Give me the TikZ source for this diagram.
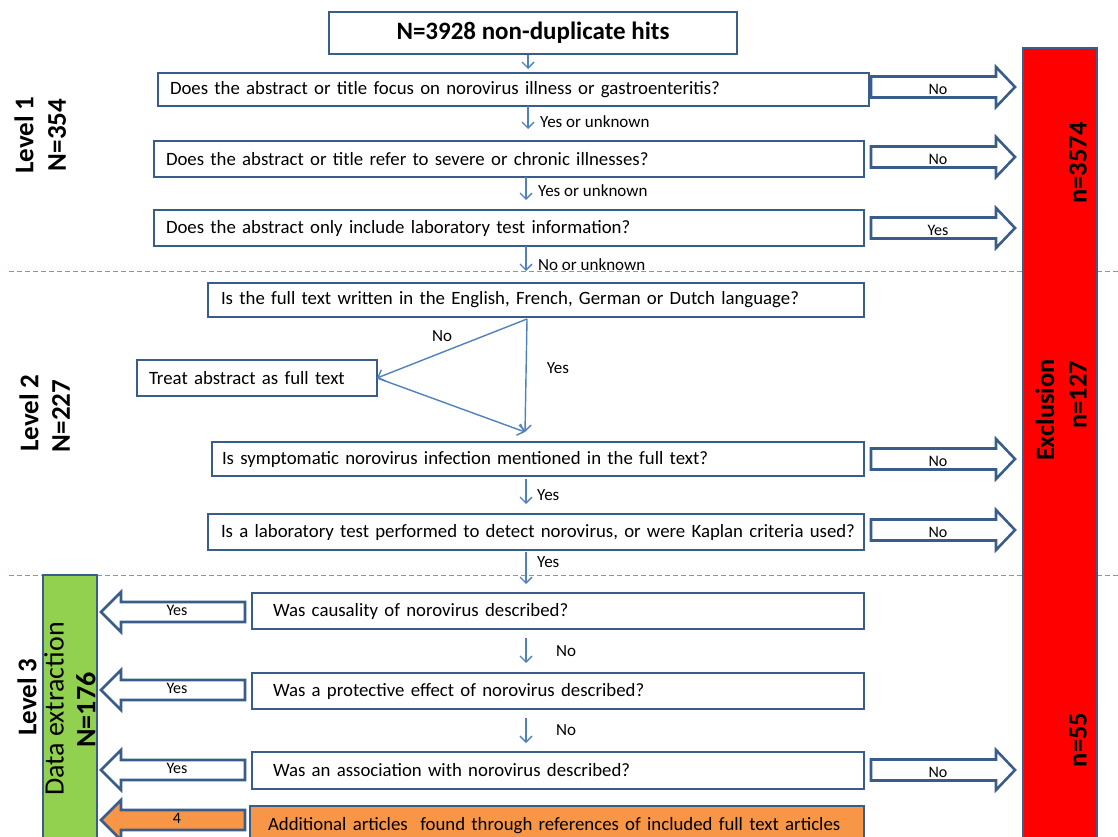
\documentclass[tikz,border=0pt]{standalone}
\usepackage{fontspec}
\setmainfont{Carlito}
\usetikzlibrary{arrows.meta}
\definecolor{boxblue}{RGB}{56,93,138}
\definecolor{lineblue}{RGB}{79,129,189}
\definecolor{dashblue}{RGB}{110,155,215}
\definecolor{exred}{RGB}{255,0,0}
\definecolor{exgreen}{RGB}{146,208,80}
\definecolor{exorange}{RGB}{247,150,70}
\hbadness=10000 \hfuzz=500pt
\newcommand\qb[7]{\node[qbox, minimum height=#5pt, text width=#4pt, inner xsep=#6pt] (#1) at (#2,#3) {\mbox{#7}};}
\newcommand\rarr[3]{%
  \draw[barrow] (871,#2-10.5) -- (996,#2-10.5) -- (996,#2-20) -- (1015,#2) -- (996,#2+20) -- (996,#2+10.5) -- (871,#2+10.5) -- cycle;
  \node[alabel] (#1) at (938,#2+2) {#3};}
\newcommand\larr[4]{%
  \draw[barrow, fill=#4] (245,#2-10) -- (121,#2-10) -- (121,#2-20) -- (101,#2) -- (121,#2+20) -- (121,#2+10) -- (245,#2+10) -- cycle;
  \node[alabel] (#1) at (177,#2-2) {#3};}
\begin{document}
\begin{tikzpicture}[x=1pt,y=-1pt,
  qbox/.style={draw=boxblue, line width=2.6pt, fill=white, anchor=north west, outer sep=0pt, align=left, inner ysep=0pt, font=\fontsize{18.8}{22}\selectfont},
  sarrow/.style={draw=lineblue, line width=1.4pt, -{Straight Barb[length=6pt,width=12pt]}},
  slabel/.style={anchor=west, inner sep=0pt, font=\fontsize{17}{20}\selectfont},
  barrow/.style={draw=boxblue, line width=2.6pt, fill=white, line join=miter},
  alabel/.style={inner sep=0pt, font=\fontsize{16}{19}\selectfont},
  vlabel/.style={rotate=90, inner sep=0pt, font=\bfseries\fontsize{27}{30}\selectfont},
  xlabel/.style={rotate=90, inner sep=0pt, font=\bfseries\fontsize{26.5}{30}\selectfont},
  bar/.style={draw=boxblue, line width=2.6pt, anchor=north west, outer sep=0pt},
  dline/.style={draw=dashblue, line width=1.3pt, dash pattern=on 5pt off 3pt},
]
\useasboundingbox (0,0) rectangle (1118,837);
\clip (0,0) rectangle (1118,837);

% dashed level separators
\coordinate (d1a) at (9,271.5); \coordinate (d1b) at (1118,271.5);
\coordinate (d2a) at (9,575.5); \coordinate (d2b) at (1118,575.5);
\draw[dline] (d1a) -- (d1b);
\draw[dline] (d2a) -- (d2b);

% bars
\node[bar, fill=exred, minimum width=74pt, minimum height=820pt] (excl) at (1023,48) {};
\node[bar, fill=exgreen, minimum width=54pt, minimum height=300pt] (dext) at (43,575) {};

% title
\node[draw=boxblue, line width=2.6pt, fill=white, anchor=north west, outer sep=0pt, minimum width=408pt, minimum height=42pt, font=\bfseries\fontsize{25}{28}\selectfont] (top) at (329,12) {N=3928 non-duplicate hits};

% question boxes
\qb{b1}{158}{73}{687}{33}{12}{Does the abstract or title focus on norovirus illness or gastroenteritis?}
\qb{b2}{154}{141}{686}{36}{12}{Does the abstract or title refer to severe or chronic illnesses?}
\qb{b3}{154}{210}{686}{36}{12}{Does the abstract only include laboratory test information?}
\qb{b4}{208}{283}{630}{34}{13}{Is the full text written in the English, French, German or Dutch language?}
\qb{treat}{137}{360}{216}{36}{12}{Treat abstract as full text}
\qb{b5}{212}{442}{632}{34}{10}{Is symptomatic norovirus infection mentioned in the full text?}
\qb{b6}{208}{514}{630}{36}{13}{Is a laboratory test performed to detect norovirus, or were Kaplan criteria used?}
\qb{b7}{252}{593}{570}{36}{21}{Was causality of norovirus described?}
\qb{b8}{252}{673}{570}{36}{21}{Was a protective effect of norovirus described?}
\qb{b9}{252}{752}{570}{37}{21}{Was an association with norovirus described?}
\node[qbox, fill=exorange, minimum height=40pt, text width=578pt, inner xsep=18pt] (add) at (250,806) {\mbox{Additional articles\ \ found through references of included full text articles}};

% small arrows
\coordinate (ax) at (528,0);
\coordinate (bx) at (526,0);
\draw[sarrow, shorten <=1pt, shorten >=4pt] (top.south -| ax) -- (b1.north -| ax);
\draw[sarrow, shorten >=12pt] (b1.south -| ax) -- (b2.north -| ax);
\draw[sarrow, shorten >=10pt] (b2.south -| bx) -- (b3.north -| bx);
\draw[sarrow, shorten >=12pt] (b3.south -| bx) -- (b4.north -| bx);
\draw[sarrow, shorten <=3pt, shorten >=10pt] (b5.south -| bx) -- (b6.north -| bx);
\draw[sarrow, shorten <=2pt, shorten >=9pt] (b6.south -| bx) -- (b7.north -| bx);
\draw[sarrow, shorten <=9pt, shorten >=10pt] (b7.south -| bx) -- (b8.north -| bx);
\draw[sarrow, shorten <=9pt, shorten >=9pt] (b8.south -| bx) -- (b9.north -| bx);

\node[slabel] (y1) at (540,122) {Yes or unknown};
\node[slabel] (y2) at (538,191) {Yes or unknown};
\node[slabel] (y3) at (538,265) {No or unknown};
\node[slabel] (y5) at (537,495) {Yes};
\node[slabel] (y6) at (537,562) {Yes};
\node[slabel] (n7) at (556,651) {No};
\node[slabel] (n8) at (556,730) {No};

% language branch
\coordinate (apex) at (527,319);
\coordinate (bot) at (525,432);
\draw[sarrow] (apex) -- (treat.east);
\draw[sarrow] (treat.east) -- (bot);
\draw[sarrow] (apex) -- (bot);
\node[slabel, anchor=center] (tno) at (442,336) {No};
\node[slabel, anchor=center] (tyes) at (558,368) {Yes};

% exclusion arrows
\rarr{r1}{87}{No}
\rarr{r2}{157}{No}
\rarr{r3}{228}{Yes}
\rarr{r5}{459}{No}
\rarr{r6}{530}{No}
\rarr{r9}{770}{No}

% inclusion arrows
\larr{l7}{612}{Yes}{white}
\larr{l8}{690}{Yes}{white}
\larr{l9}{770}{Yes}{white}
\larr{la}{820}{4}{exorange}

% level labels
\node[vlabel] (lv1) at (24,135) {Level 1};
\node[vlabel] (nn1) at (57,135) {N=354};
\node[vlabel] (lv2) at (29,413) {Level 2};
\node[vlabel] (nn2) at (61,416) {N=227};
\node[vlabel] (lv3) at (27,697) {Level 3};
\node[rotate=90, inner sep=0pt, font=\fontsize{28}{32}\selectfont] (de) at (54,709) {Data extraction};
\node[rotate=90, inner sep=0pt, font=\bfseries\fontsize{28}{32}\selectfont] (nn3) at (86,710) {N=176};

% exclusion labels
\node[xlabel] (x1) at (1078,163) {n=3574};
\node[xlabel] (x2) at (1045,410) {Exclusion};
\node[xlabel] (x3) at (1078,395) {n=127};
\node[xlabel] (x4) at (1078,740) {n=55};
\end{tikzpicture}
\end{document}
